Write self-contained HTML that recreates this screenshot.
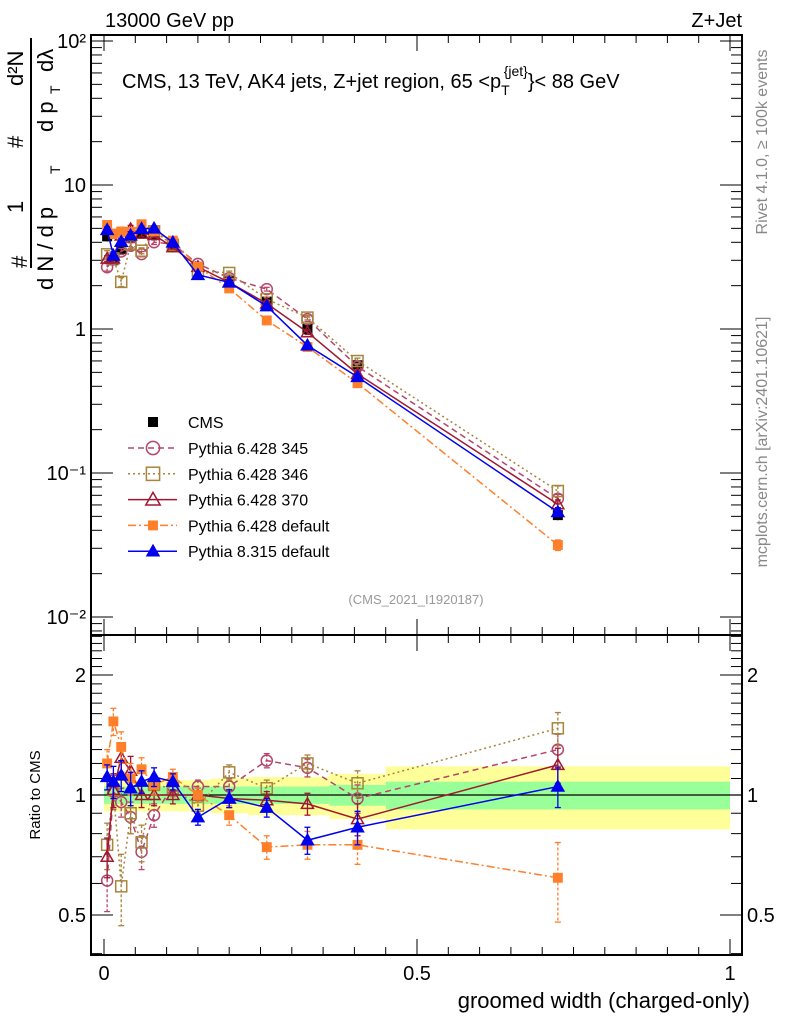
<!DOCTYPE html>
<html><head><meta charset="utf-8"><style>
body{margin:0;background:#fff;}
svg{display:block;font-family:"Liberation Sans",sans-serif;}
</style></head><body>
<svg id="c" width="786" height="1024" xmlns="http://www.w3.org/2000/svg"></svg>
<script>
const xCenters=[0.005,0.015,0.0275,0.0425,0.06,0.08,0.11,0.15,0.2,0.26,0.325,0.405,0.725];
const binEdges=[0,0.01,0.02,0.035,0.05,0.07,0.09,0.13,0.17,0.23,0.29,0.36,0.45,1.0];
const cmsValues=[4.4,3.0,3.6,4.3,4.6,4.5,3.7,2.7,2.15,1.55,1.0,0.56,0.051];
const bandStat=[0.05,0.05,0.05,0.05,0.05,0.05,0.05,0.05,0.05,0.05,0.05,0.06,0.08];
const bandTot=[0.09,0.09,0.09,0.09,0.09,0.09,0.09,0.09,0.1,0.11,0.11,0.13,0.18];
const ratio345=[0.61,1.02,0.96,0.88,0.72,0.89,1.05,1.05,1.05,1.22,1.17,0.98,1.30];
const ratio346=[0.75,1.03,0.59,0.90,0.76,1.06,1.04,0.94,1.14,1.04,1.20,1.07,1.47];
const ratio370=[0.70,1.03,1.24,1.15,1.0,1.0,1.0,1.0,0.98,0.97,0.95,0.87,1.19];
const ratioP6=[1.20,1.53,1.32,1.10,1.16,1.06,1.11,1.0,0.89,0.74,0.75,0.75,0.62];
const ratioP8=[1.11,1.08,1.12,1.04,1.08,1.11,1.08,0.88,0.98,0.93,0.77,0.83,1.05];
const err345=[0.1,0.1,0.08,0.08,0.07,0.06,0.05,0.04,0.05,0.05,0.06,0.08,0.12];
const err346=[0.1,0.1,0.12,0.1,0.08,0.06,0.05,0.04,0.05,0.05,0.06,0.08,0.14];
const err370=[0.08,0.1,0.1,0.1,0.07,0.06,0.05,0.04,0.05,0.05,0.06,0.08,0.12];
const errP6=[0.1,0.12,0.12,0.1,0.08,0.06,0.05,0.04,0.05,0.05,0.06,0.08,0.14];
const errP8=[0.08,0.1,0.1,0.1,0.07,0.06,0.05,0.04,0.05,0.05,0.06,0.08,0.12];
const xTickLabels=["0","0.5","1"];
const yMainTickLabels=["10⁻²","10⁻¹","1","10","10²"];
const yRatioTickLabels=["0.5","1","2"];

const NS="http://www.w3.org/2000/svg";
const svg=document.getElementById('c');
const L=91,R=742,T=35,MB=635,RB=955;
function X(v){return 104+v*626;}
function YM(v){return 329-144*Math.log10(v);}
function YR(v){return 795-120*Math.log2(v);}
function mk(tag,at,parent){const e=document.createElementNS(NS,tag);for(const k in at)e.setAttribute(k,at[k]);(parent||svg).appendChild(e);return e;}
function txt(s,x,y,at){const e=mk('text',Object.assign({x:x,y:y,'font-size':18},at||{}));e.textContent=s;return e;}

const defs=mk('defs',{});
const cp1=mk('clipPath',{id:'cm'},defs);mk('rect',{x:L,y:T,width:R-L,height:MB-T},cp1);
const cp2=mk('clipPath',{id:'cr'},defs);mk('rect',{x:L,y:MB,width:R-L,height:RB-MB},cp2);

const bands=mk('g',{'clip-path':'url(#cr)'});


for(let i=0;i<xCenters.length;i++){
  const x0=X(binEdges[i]),x1=X(binEdges[i+1]);
  const y=mk('rect',{x:x0,y:YR(1+bandTot[i]),width:x1-x0,height:YR(1-bandTot[i])-YR(1+bandTot[i]),fill:'#ffff99'},bands);
  
  
  const g=mk('rect',{x:x0,y:YR(1+bandStat[i]),width:x1-x0,height:YR(1-bandStat[i])-YR(1+bandStat[i]),fill:'#99ff99'},bands);
  
  
}
mk('line',{x1:L,x2:R,y1:YR(1),y2:YR(1),stroke:'#000','stroke-width':1.2});

const f1=mk('rect',{x:L,y:T,width:R-L,height:MB-T,fill:'none',stroke:'#000','stroke-width':2});

const f2=mk('rect',{x:L,y:MB,width:R-L,height:RB-MB,fill:'none',stroke:'#000','stroke-width':2});


for(let k=0;k<=20;k++){const v=k*0.05;const x=X(v);const len=(k%10==0)?16:8;
  [T,MB].forEach(y0=>mk('line',{x1:x,x2:x,y1:y0,y2:y0+len,stroke:'#000'}));
  [MB,RB].forEach(y0=>mk('line',{x1:x,x2:x,y1:y0,y2:y0-len,stroke:'#000'}));
}
xTickLabels.forEach((s,i)=>{const t=txt(s,X(i*0.5),980,{'text-anchor':'middle','font-size':20});
  });
const xt=txt('groomed width (charged-only)',750,1008,{'text-anchor':'end','font-size':22});


for(let d=-3;d<=2;d++){for(let m=1;m<=9;m++){const v=m*Math.pow(10,d);const y=YM(v);if(y<T||y>MB)continue;
  const len=m==1?22:11;mk('line',{x1:L,x2:L+len,y1:y,y2:y,stroke:'#000'});mk('line',{x1:R,x2:R-len,y1:y,y2:y,stroke:'#000'});}}
yMainTickLabels.forEach((s,i)=>{const v=Math.pow(10,i-2);const t=txt(s,86,YM(v)+7,{'text-anchor':'end','font-size':20});
  });
for(let k=4;k<=25;k++){const v=k/10;const y=YR(v);if(y<MB||y>RB)continue;
  const len=(k==5||k==10||k==20)?22:11;mk('line',{x1:L,x2:L+len,y1:y,y2:y,stroke:'#000'});mk('line',{x1:R,x2:R-len,y1:y,y2:y,stroke:'#000'});}
yRatioTickLabels.forEach((s,i)=>{const v=Math.pow(2,i-1);
  const t=txt(s,86,YR(v)+7,{'text-anchor':'end','font-size':20});
  const t2=txt(s,747,YR(v)+7,{'font-size':20});});

const series=[
 {name:'pythia-6428-345',ratio:ratio345,err:err345,color:'#b5456a',dash:'6,4',mark:'circle',open:true},
 {name:'pythia-6428-346',ratio:ratio346,err:err346,color:'#a8843c',dash:'2,3',mark:'square',open:true},
 {name:'pythia-6428-370',ratio:ratio370,err:err370,color:'#a01830',dash:'',mark:'tri',open:true},
 {name:'pythia-6428-default',ratio:ratioP6,err:errP6,color:'#ff7f2a',dash:'8,3,2,3',mark:'square',open:false},
 {name:'pythia-8315-default',ratio:ratioP8,err:errP8,color:'#0000ee',dash:'',mark:'tri',open:false}];
function marker(g,m,x,y,c,open,s){
  const fill=open?'none':c,sw=1.5;
  if(m=='circle')return mk('circle',{cx:x,cy:y,r:s*0.55,fill:fill,stroke:c,'stroke-width':sw},g);
  if(m=='square'){const h=open?s*0.55:s*0.42;return mk('rect',{x:x-h,y:y-h,width:2*h,height:2*h,fill:fill,stroke:c,'stroke-width':sw},g);}
  const h=s*0.6;return mk('polygon',{points:`${x},${y-h} ${x-h},${y+h*0.75} ${x+h},${y+h*0.75}`,fill:fill,stroke:c,'stroke-width':sw},g);
}
function drawSeries(s,isRatio){
  const g=mk('g',{'clip-path':isRatio?'url(#cr)':'url(#cm)'});
  
  
  const vals=s.ratio.map((r,i)=>isRatio?r:r*cmsValues[i]);
  const Yf=isRatio?YR:YM;
  const pts=vals.map((v,i)=>X(xCenters[i])+','+Yf(v)).join(' ');
  mk('polyline',{points:pts,fill:'none',stroke:s.color,'stroke-width':1.5,'stroke-dasharray':s.dash},g);
  vals.forEach((v,i)=>{const x=X(xCenters[i]);const e=isRatio?s.err[i]:s.err[i]*0.6*v;
    const lo=v-e,hi=v+e;
    mk('line',{x1:x,x2:x,y1:Yf(hi),y2:Yf(Math.max(lo,1e-4)),stroke:s.color,'stroke-width':1.3,'stroke-dasharray':s.dash?'3,2':''},g);
    mk('line',{x1:x-3,x2:x+3,y1:Yf(hi),y2:Yf(hi),stroke:s.color,'stroke-width':1.3},g);
    mk('line',{x1:x-3,x2:x+3,y1:Yf(lo),y2:Yf(lo),stroke:s.color,'stroke-width':1.3},g);
    const m=marker(g,s.mark,x,Yf(v),s.color,s.open,10);
    
    
  });
}
const cg=mk('g',{'clip-path':'url(#cm)'});


cmsValues.forEach((v,i)=>{const x=X(xCenters[i]);
  mk('line',{x1:x,x2:x,y1:YM(v*1.08),y2:YM(v*0.92),stroke:'#000'},cg);
  const r=mk('rect',{x:x-5,y:YM(v)-5,width:10,height:10,fill:'#000'},cg);
  
  
});
series.forEach(s=>{drawSeries(s,false);drawSeries(s,true);});

const lg=mk('g',{});


mk('rect',{x:148,y:417,width:10,height:10,fill:'#000'},lg);
const lt=txt('CMS',188,428,{'font-size':16});lg.appendChild(lt);
series.forEach((s,i)=>{const y=448+i*25.8;
  mk('line',{x1:128,x2:177,y1:y,y2:y,stroke:s.color,'stroke-width':1.5,'stroke-dasharray':s.dash},lg);
  marker(lg,s.mark,153,y,s.color,s.open,s.open?12:10);
  const t=txt(['Pythia 6.428 345','Pythia 6.428 346','Pythia 6.428 370','Pythia 6.428 default','Pythia 8.315 default'][i],188,y+6,{'font-size':16});
  lg.appendChild(t);
  
  
});

let t;
t=txt('13000 GeV pp',105,27,{'font-size':20});
t=txt('Z+Jet',742,27,{'font-size':20,'text-anchor':'end'});
t=mk('text',{x:122,y:88,'font-size':20});t.innerHTML='CMS, 13 TeV, AK4 jets, Z+jet region, 65 &lt;p<tspan font-size="14" dy="7">T</tspan><tspan font-size="14" dy="-19" dx="-6">{jet}</tspan><tspan dy="12">}&lt; 88 GeV</tspan>';

t=txt('(CMS_2021_I1920187)',416,604,{'font-size':13,fill:'#999','text-anchor':'middle'});
t=txt('Rivet 4.1.0, ≥ 100k events',0,0,{'font-size':16,fill:'#888',transform:'translate(767,142) rotate(-90)','text-anchor':'middle'});
t=txt('mcplots.cern.ch [arXiv:2401.10621]',0,0,{'font-size':16,fill:'#888',transform:'translate(767,442) rotate(-90)','text-anchor':'middle'});
t=txt('Ratio to CMS',0,0,{'font-size':15,transform:'translate(40,795) rotate(-90)','text-anchor':'middle'});
// main y title
const yt=mk('g',{});


txt('#',0,0,{'font-size':22,transform:'translate(27,268) rotate(-90)'});
txt('1',0,0,{'font-size':22,transform:'translate(23,213) rotate(-90)'});
mk('line',{x1:31,x2:31,y1:38,y2:268,stroke:'#000','stroke-width':2});
txt('d N / d p',0,0,{'font-size':22,transform:'translate(53,290) rotate(-90)'});
txt('T',0,0,{'font-size':14,transform:'translate(60,174) rotate(-90)'});
txt('#',0,0,{'font-size':22,transform:'translate(23,148) rotate(-90)'});
txt('d²N',0,0,{'font-size':22,transform:'translate(23,86) rotate(-90)'});
mk('line',{x1:31,x2:31,y1:38,y2:120,stroke:'#000','stroke-width':2});
txt('d p',0,0,{'font-size':22,transform:'translate(53,132) rotate(-90)'});
txt('T',0,0,{'font-size':14,transform:'translate(60,94) rotate(-90)'});
txt('dλ',0,0,{'font-size':22,transform:'translate(53,72) rotate(-90)'});
</script>
</body></html>
